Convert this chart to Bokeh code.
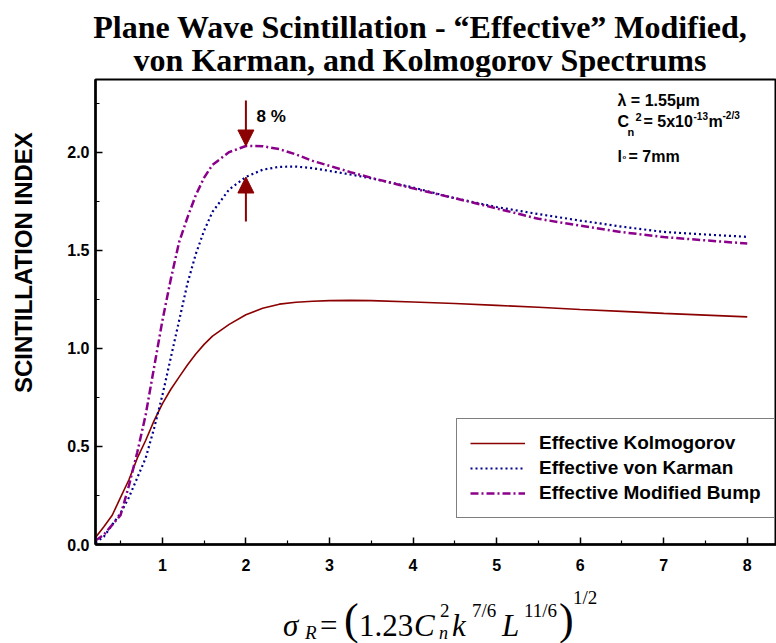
from bokeh.plotting import figure
from bokeh.models import (Label, Arrow, NormalHead, FixedTicker, PrintfTickFormatter,
                          Range1d, Div)
from bokeh.layouts import column, row
from bokeh.embed import file_html
from bokeh.resources import INLINE

# ---------------- data ----------------
x_vals = [0.2, 0.3, 0.4, 0.5, 0.6, 0.7, 0.8, 0.9, 1.0, 1.1, 1.2, 1.3, 1.4, 1.5, 1.6,
          1.8, 2.0, 2.2, 2.4, 2.6, 2.8, 3.0, 3.25, 3.5, 4.0, 4.5, 5.0, 5.5, 6.0,
          6.5, 7.0, 7.5, 8.0]
kolmogorov = [0.036, 0.09, 0.149, 0.24, 0.33, 0.44, 0.53, 0.63, 0.717, 0.79, 0.853,
              0.915, 0.971, 1.02, 1.062, 1.122, 1.171, 1.204, 1.225, 1.235, 1.240,
              1.243, 1.244, 1.243, 1.236, 1.228, 1.219, 1.209, 1.198, 1.188, 1.178,
              1.169, 1.160]
von_karman = [0.01, 0.04, 0.10, 0.16, 0.24, 0.34, 0.44, 0.59, 0.76, 0.95, 1.14, 1.33,
              1.48, 1.60, 1.695, 1.81, 1.873, 1.91, 1.925, 1.926, 1.918, 1.904, 1.886,
              1.866, 1.82, 1.765, 1.72, 1.684, 1.651, 1.62, 1.593, 1.58, 1.568]
mod_bump = [0.02, 0.05, 0.10, 0.15, 0.30, 0.47, 0.66, 0.90, 1.14, 1.35, 1.54, 1.666,
            1.78, 1.87, 1.935, 2.00, 2.031, 2.030, 2.015, 1.988, 1.955, 1.93, 1.898,
            1.869, 1.815, 1.765, 1.713, 1.66, 1.625, 1.592, 1.567, 1.55, 1.534]

series_names = ["Effective Kolmogorov", "Effective von Karman", "Effective Modified Bump"]
x_ticks = [1, 2, 3, 4, 5, 6, 7, 8]
x_minor = [0.5, 1.5, 2.5, 3.5, 4.5, 5.5, 6.5, 7.5]
y_ticks = [0.0, 0.5, 1.0, 1.5, 2.0]
y_minor = [0.25, 0.75, 1.25, 1.75, 2.25]
arrow_x = 2.0
percent_text = "8 %"
title_lines = ["Plane Wave Scintillation - \u201cEffective\u201d Modified,",
               "von Karman, and Kolmogorov Spectrums"]
y_title = "SCINTILLATION INDEX"

# ---------------- geometry (page pixels) ----------------
FL, FR, FT, FB = 95, 776, 79, 544      # frame edges
X0, X1, Y0, Y1 = 0.2, 8.35, 0.0, 2.37
TITLE_H = 77
YLAB_W = 40
FIG_BOTTOM = 40
FIG_H = 2 + (FB - FT) + FIG_BOTTOM
FORM_TOP = TITLE_H + FIG_H
FORM_H = 643 - FORM_TOP


def dx(px):
    return X0 + (px - FL) * (X1 - X0) / (FR - FL)


def dy(py):
    return Y0 + (FB - py) * (Y1 - Y0) / (FB - FT)


DARKRED = "#8B0000"
NAVY = "#00008B"
PURPLE = "#8B008B"
SANS = "Liberation Sans"
SERIF = "Liberation Serif"

p = figure(frame_width=FR - FL, frame_height=FB - FT,
           min_border_left=FL - YLAB_W, min_border_right=0,
           min_border_top=FT - TITLE_H, min_border_bottom=FIG_BOTTOM,
           x_range=Range1d(X0, X1), y_range=Range1d(Y0, Y1),
           output_backend="svg", toolbar_location=None)
p.background_fill_color = "white"
p.border_fill_color = "white"
p.outline_line_color = "black"
p.outline_line_width = 2
p.xgrid.visible = False
p.ygrid.visible = False

for ax in (p.xaxis[0], p.yaxis[0]):
    ax.axis_line_width = 2.5
    ax.axis_line_color = "black"
    ax.major_tick_in = 7
    ax.major_tick_out = 0
    ax.minor_tick_in = 4
    ax.minor_tick_out = 0
    ax.major_tick_line_width = 1.5
    ax.minor_tick_line_width = 1.2
    ax.major_label_text_font = SANS
    ax.major_label_text_font_style = "bold"
    ax.major_label_text_font_size = "16px"
    ax.major_label_text_color = "black"

p.xaxis[0].ticker = FixedTicker(ticks=x_ticks, minor_ticks=x_minor)
p.yaxis[0].ticker = FixedTicker(ticks=y_ticks, minor_ticks=y_minor)
p.yaxis[0].formatter = PrintfTickFormatter(format="%.1f")
p.xaxis[0].major_label_standoff = 14
p.yaxis[0].major_label_standoff = 6

p.line(x_vals, kolmogorov, line_color=DARKRED, line_width=1.6,
       legend_label=series_names[0])
p.line(x_vals, von_karman, line_color=NAVY, line_width=2.2, line_dash="2 3",
       legend_label=series_names[1])
p.line(x_vals, mod_bump, line_color=PURPLE, line_width=2.5, line_dash="8 3 2 3",
       legend_label=series_names[2])

lg = p.legend[0]
lg.location = (456 - FL, FB - 518)
lg.label_text_font = SANS
lg.label_text_font_style = "bold"
lg.label_text_font_size = "19px"
lg.label_text_color = "black"
lg.glyph_width = 55
lg.glyph_height = 22
lg.label_height = 22
lg.label_standoff = 14
lg.spacing = 3
lg.padding = 13
lg.margin = 0
lg.border_line_color = "black"
lg.border_line_width = 1
lg.background_fill_alpha = 1.0

# arrows marking the 8 % difference at x = 2
i2 = x_vals.index(arrow_x)
p.add_layout(Arrow(end=NormalHead(size=16, fill_color=DARKRED, line_color=DARKRED),
                   x_start=arrow_x, y_start=dy(100), x_end=arrow_x, y_end=mod_bump[i2],
                   line_color=DARKRED, line_width=2))
p.add_layout(Arrow(end=NormalHead(size=16, fill_color=DARKRED, line_color=DARKRED),
                   x_start=arrow_x, y_start=dy(221), x_end=arrow_x, y_end=von_karman[i2],
                   line_color=DARKRED, line_width=2))


def lab(text, px, py, size, font=SANS, style="bold"):
    p.add_layout(Label(x=dx(px), y=dy(py), text=text, text_font=font,
                       text_font_style=style, text_font_size=f"{size}px",
                       text_align="left", text_baseline="alphabetic",
                       text_color="black"))


lab(percent_text, 256, 116, 17)

# parameter block
lab("λ = 1.55μm", 617, 100, 16)
lab("C", 617, 121, 16)
lab("n", 627, 131, 11)
lab("2", 635, 116, 11)
lab("= 5x10", 643, 121, 16)
lab("-13", 693, 115, 10)
lab("m", 708, 121, 16)
lab("-2/3", 722, 115, 10)
lab("l", 617, 156, 16)
lab("o", 622, 156, 6)
lab("= 7mm", 628, 156, 16)


# ---------------- text outside the frame (HTML) ----------------
def span(text, left, baseline, size, family=SERIF, weight="normal", style="normal"):
    top = baseline - 0.8375 * size
    return (f'<span style="position:absolute;left:{left}px;top:{top:.1f}px;'
            f'font-family:\'{family}\';font-size:{size}px;line-height:{size}px;'
            f'font-weight:{weight};font-style:{style};white-space:nowrap;color:black;">'
            f'{text}</span>')


title_html = (
    f'<div style="position:relative;width:776px;height:{TITLE_H}px;overflow:hidden;">'
    + "".join(
        f'<div style="position:absolute;left:64px;width:712px;top:{b - 0.8375 * 32:.1f}px;'
        f'text-align:center;font-family:\'{SERIF}\';font-weight:bold;font-size:32px;'
        f'line-height:32px;white-space:nowrap;color:black;">{t}</div>'
        for t, b in zip(title_lines, [38, 71]))
    + '</div>')
title_div = Div(text=title_html, width=776, height=TITLE_H, margin=(0, 0, 0, 0))

ylab_center = 263 - TITLE_H
ylab_html = (
    f'<div style="position:relative;width:{YLAB_W}px;height:{FIG_H}px;overflow:hidden;">'
    f'<div style="position:absolute;left:12px;top:{ylab_center - 150}px;width:24px;'
    f'height:300px;writing-mode:vertical-rl;transform:rotate(180deg);text-align:center;'
    f'font-family:\'{SANS}\';font-weight:bold;font-size:24px;line-height:24px;'
    f'white-space:nowrap;color:black;">{y_title}</div></div>')
ylab_div = Div(text=ylab_html, width=YLAB_W, height=FIG_H, margin=(0, 0, 0, 0))


def fb(py):
    return py - FORM_TOP


form_parts = [
    span("σ", 283, fb(636), 31, style="italic"),
    span("R", 305, fb(639), 19, style="italic"),
    span("=", 320, fb(636), 31),
    span("(", 344, fb(635), 44),
    span("1.23", 359, fb(636), 31),
    span("C", 414, fb(636), 31, style="italic"),
    span("2", 440, fb(617), 19),
    span("n", 439, fb(639), 18, style="italic"),
    span("k", 452, fb(636), 31, style="italic"),
    span("7/6", 472, fb(617), 19),
    span("L", 502, fb(636), 31, style="italic"),
    span("11/6", 524, fb(617), 19),
    span(")", 559, fb(635), 44),
    span("1/2", 573, fb(604), 19),
]
form_html = (f'<div style="position:relative;width:776px;height:{FORM_H}px;overflow:hidden;">'
             + "".join(form_parts) + '</div>')
form_div = Div(text=form_html, width=776, height=FORM_H, margin=(0, 0, 0, 0))

layout = column(title_div, row(ylab_div, p, spacing=0), form_div, spacing=0)

open("out.html", "w").write(file_html(layout, INLINE))
